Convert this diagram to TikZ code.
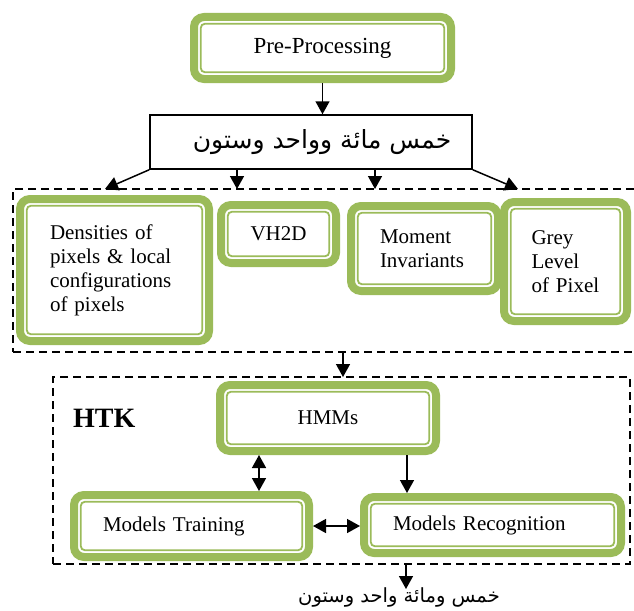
\documentclass[tikz,border=0pt]{standalone}
\usepackage{fontspec}
\setmainfont{Liberation Serif}
\newfontfamily\arabicfont[Script=Arabic]{DejaVu Sans}
\TeXXeTstate=1
\usetikzlibrary{arrows.meta}
\definecolor{boxgreen}{HTML}{9BBB59}

\begin{document}
\begin{tikzpicture}[x=1pt,y=-1pt,
		>={Triangle[length=13pt,width=14pt]},
		greenbox/.style={draw=boxgreen, line width=8pt, fill=white, rounded corners=10pt,
			font=\fontsize{21}{24}\selectfont, inner ysep=0pt,
			path picture={\draw[boxgreen, line width=1.8pt, rounded corners=4pt]
				([shift={(6.8pt,6.8pt)}]path picture bounding box.south west) rectangle
				([shift={(-6.8pt,-6.8pt)}]path picture bounding box.north east);}},
		dashbox/.style={draw, line width=2pt, dash pattern=on 8pt off 5pt},
		link/.style={line width=1.5pt}]
			\useasboundingbox (0,0) rectangle (634,610);
			\node[dashbox, minimum width=632pt, minimum height=163pt] (feat) at (329,270.5) {};
			\node[dashbox, minimum width=577pt, minimum height=187pt] (htkbox) at (341.5,470.5) {};

			\node[greenbox, minimum width=257pt, minimum height=62pt, font=\fontsize{23}{26}\selectfont] (prep) at (322.5,48) {Pre-Processing};
			\node[draw, line width=1.5pt, minimum width=322pt, minimum height=54pt, inner xsep=0pt,
				font=\arabicfont\fontsize{25}{27}\selectfont] (hand) at (311,142) {\hspace{22pt}\beginR خمس مائة وواحد وستون\endR};

			% features
			\node[greenbox, text width=129pt, inner xsep=30pt, align=left, minimum height=142pt] (dens) at (114.5,270)
				{Densities of\\ pixels \& local\\ configurations\\ of pixels};
			\node[greenbox, minimum width=115pt, minimum height=58pt] (vh) at (278.5,234) {VH2D};
			\node[greenbox, text width=89pt, inner xsep=29pt, align=left, minimum height=85pt] (mom) at (424.5,248.5)
				{Moment\\ Invariants};
			\node[greenbox, text width=68pt, inner xsep=27.5pt, align=left, minimum height=119pt] (grey) at (565.5,261.5)
				{Grey\\ Level\\ of Pixel};

			% HTK part
			\node[font=\bfseries\fontsize{28}{30}\selectfont, anchor=west, inner sep=0pt] (htk) at (73,418) {HTK};
			\node[greenbox, minimum width=216pt, minimum height=66pt] (hmm) at (328,418) {HMMs};
			\node[greenbox, text width=177pt, inner xsep=29pt, align=left, minimum height=62pt] (train) at (191.5,526) {Models Training};
			\node[greenbox, text width=199pt, inner xsep=29pt, align=left, minimum height=56pt] (recog) at (492.5,525) {Models Recognition};
			\node[inner sep=0pt, font=\arabicfont\fontsize{19.5}{21}\selectfont] (out) at (399,597) {\beginR خمس ومائة واحد وستون\endR};

			\coordinate (f1) at (105,189);
			\coordinate (f2) at (237,189);
			\coordinate (f3) at (375,189);
			\coordinate (f4) at (518,189);
			\coordinate (h0) at (343,377);
			\coordinate (h1) at (259,0);
			\coordinate (h2) at (407,0);
			\coordinate (o1) at (406,589);

			\path[->, link]
			(prep.south) edge (prep.south |- hand.north)
			(hand.south west) edge (f1)
			(hand.south -| f2) edge (f2)
			(hand.south -| f3) edge (f3)
			(hand.south east) edge (f4)
			(feat.south -| h0) edge (h0)
			(hmm.south -| h2) edge (recog.north -| h2)
			(htkbox.south -| o1) edge (o1);
			\path[<->, link]
			(hmm.south -| h1) edge (train.north -| h1)
			(train.east) edge (train.east -| recog.west);
		\end{tikzpicture}
\end{document}
